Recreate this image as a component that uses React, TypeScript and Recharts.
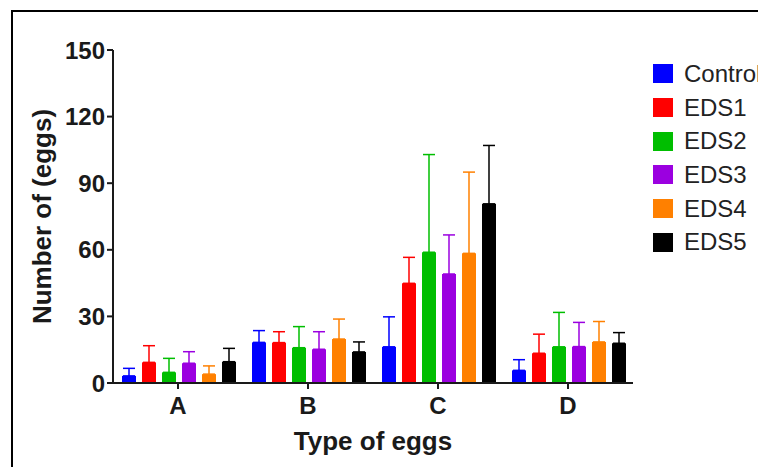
import React from 'react';
import { BarChart, Bar, XAxis, YAxis, ErrorBar } from 'recharts';

const CATEGORIES = ['A', 'B', 'C', 'D'];
const SERIES = ['Control', 'EDS1', 'EDS2', 'EDS3', 'EDS4', 'EDS5'];
const COLORS = ['#0000FF', '#FF0000', '#00BE00', '#9B00E0', '#FF8000', '#000000'];
const Y_TICKS = [0, 30, 60, 90, 120, 150];

// mean number of eggs, per series, across categories A..D
const CONTROL = [3.2, 18.3, 16.3, 5.7];
const EDS1 = [9.3, 18.2, 44.9, 13.4];
const EDS2 = [4.8, 15.9, 58.9, 16.3];
const EDS3 = [8.9, 15.2, 49.1, 16.4];
const EDS4 = [4.0, 19.8, 58.4, 18.5];
const EDS5 = [9.6, 14.0, 80.7, 17.9];

// upper error (SD) per series
const CONTROL_ERR = [3.4, 5.3, 13.5, 4.8];
const EDS1_ERR = [7.5, 4.9, 11.7, 8.6];
const EDS2_ERR = [6.3, 9.5, 44.0, 15.5];
const EDS3_ERR = [5.2, 7.9, 17.6, 10.9];
const EDS4_ERR = [3.7, 9.0, 36.6, 9.2];
const EDS5_ERR = [6.0, 4.5, 26.3, 4.8];

const VALUES = [CONTROL, EDS1, EDS2, EDS3, EDS4, EDS5];
const ERRORS = [CONTROL_ERR, EDS1_ERR, EDS2_ERR, EDS3_ERR, EDS4_ERR, EDS5_ERR];

const data = CATEGORIES.map((cat, i) => {
  const row: any = { name: cat };
  SERIES.forEach((s, j) => {
    row[s] = VALUES[j][i];
    row[s + '_err'] = [0, ERRORS[j][i]];
  });
  return row;
});

const FONT = '"Liberation Sans", Arial, sans-serif';

const App: React.FC = () => {
  return (
    <div style={{ position: 'absolute', left: 0, top: 0, width: 758, height: 467, background: '#fff', overflow: 'hidden', fontFamily: FONT }}>
      <div style={{ position: 'absolute', left: 11, top: 10, right: -10, bottom: -10, borderLeft: '2px solid #000', borderTop: '2px solid #000' }} />
      <BarChart
        width={758}
        height={467}
        data={data}
        margin={{ top: 50, right: 125, left: 0, bottom: 14 }}
        barCategoryGap={9}
        barGap={6}
        style={{ position: 'absolute', left: 0, top: 0 }}
      >
        <XAxis
          dataKey="name"
          height={70}
          tickSize={6}
          tickMargin={8}
          stroke="#1a1a1a"
          axisLine={{ stroke: '#1a1a1a', strokeWidth: 2 }}
          tickLine={{ stroke: '#1a1a1a', strokeWidth: 2 }}
          tick={{ fill: '#1a1a1a', fontSize: 24, fontWeight: 'bold', fontFamily: FONT }}
          label={{ value: 'Type of eggs', position: 'insideBottom', offset: 3, fill: '#1a1a1a', fontSize: 26, fontWeight: 'bold', fontFamily: FONT }}
        />
        <YAxis
          width={113}
          domain={[0, 150]}
          ticks={Y_TICKS}
          interval={0}
          tickSize={6}
          tickMargin={2}
          axisLine={{ stroke: '#1a1a1a', strokeWidth: 2 }}
          tickLine={{ stroke: '#1a1a1a', strokeWidth: 2 }}
          tick={{ fill: '#1a1a1a', fontSize: 24, fontWeight: 'bold', fontFamily: FONT }}
          label={{ value: 'Number of (eggs)', angle: -90, position: 'insideLeft', offset: 42, fill: '#1a1a1a', fontSize: 26, fontWeight: 'bold', fontFamily: FONT, style: { textAnchor: 'middle' } }}
        />
        {SERIES.map((s, j) => (
          <Bar key={s} dataKey={s} fill={COLORS[j]} isAnimationActive={false}>
            <ErrorBar dataKey={s + '_err'} direction="y" width={6} stroke={COLORS[j]} strokeWidth={1.5} />
          </Bar>
        ))}
      </BarChart>
      <div style={{ position: 'absolute', left: 653, top: 57 }}>
        {SERIES.map((s, j) => (
          <div key={s} style={{ display: 'flex', alignItems: 'center', height: 33.7, whiteSpace: 'nowrap' }}>
            <span style={{ display: 'inline-block', width: 20, height: 19, background: COLORS[j], marginRight: 11 }} />
            <span style={{ fontSize: 24, color: '#222', fontFamily: FONT }}>{s}</span>
          </div>
        ))}
      </div>
    </div>
  );
};

export default App;
